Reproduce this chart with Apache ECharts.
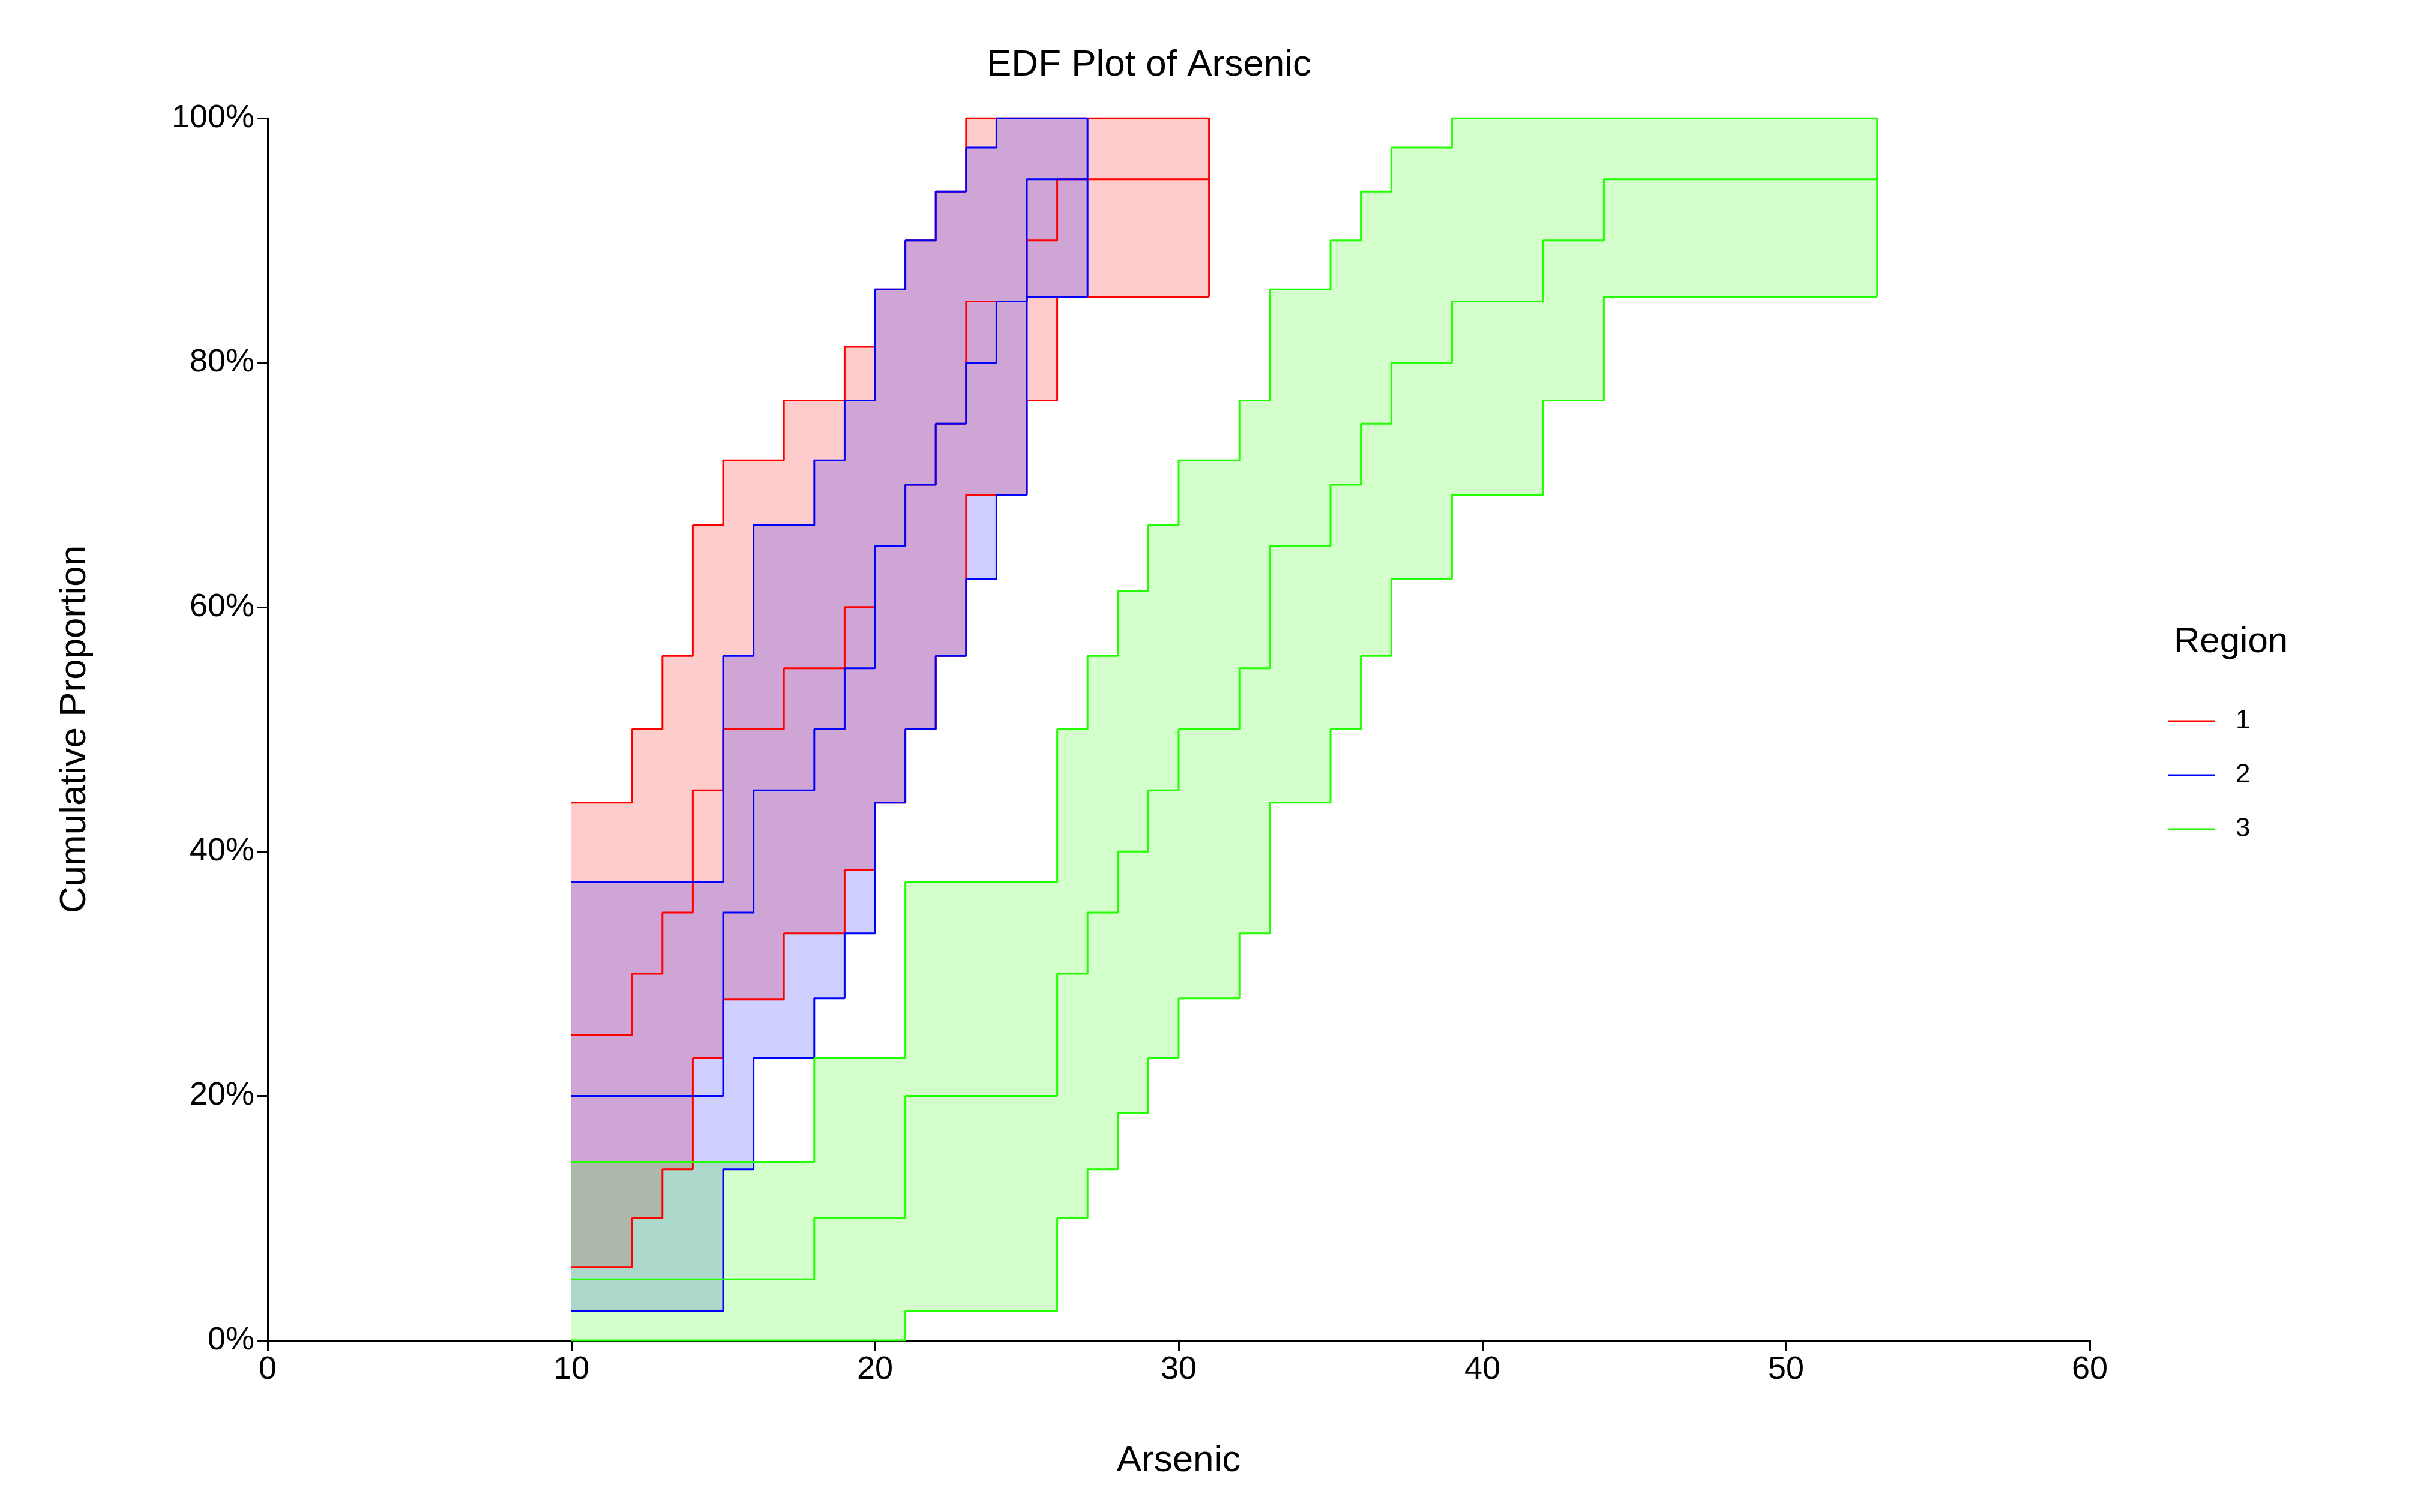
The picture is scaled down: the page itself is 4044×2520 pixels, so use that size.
<!DOCTYPE html>
<html>
<head>
<meta charset="utf-8">
<script src="https://cdn.jsdelivr.net/npm/echarts@6/dist/echarts.min.js"></script>
<style>html,body{margin:0;padding:0;background:#fff}#main{width:4044px;height:2520px}</style>
</head>
<body>
<div id="main"></div>
<script>
// region 1
var r1X = [10, 12, 13, 14, 15, 17, 19, 20, 21, 22, 23, 24, 25, 26];
var r1Lo = [0.06, 0.10, 0.14, 0.231, 0.279, 0.333, 0.385, 0.44, 0.50, 0.56, 0.692, 0.692, 0.769, 0.854];
var r1Mid = [0.25, 0.30, 0.35, 0.45, 0.50, 0.55, 0.60, 0.65, 0.70, 0.75, 0.85, 0.85, 0.90, 0.95];
var r1Hi = [0.44, 0.50, 0.56, 0.667, 0.72, 0.769, 0.813, 0.86, 0.90, 0.94, 1, 1, 1, 1];
var r1End = 31;
// region 2
var r2X = [10, 15, 16, 18, 19, 20, 21, 22, 23, 24, 25];
var r2Lo = [0.024, 0.14, 0.231, 0.28, 0.333, 0.44, 0.50, 0.56, 0.623, 0.692, 0.854];
var r2Mid = [0.20, 0.35, 0.45, 0.50, 0.55, 0.65, 0.70, 0.75, 0.80, 0.85, 0.95];
var r2Hi = [0.375, 0.56, 0.667, 0.72, 0.769, 0.86, 0.90, 0.94, 0.976, 1, 1];
var r2End = 27;
// region 3
var r3X = [10, 18, 21, 26, 27, 28, 29, 30, 32, 33, 35, 36, 37, 39, 42, 44];
var r3Lo = [0, 0, 0.024, 0.10, 0.14, 0.186, 0.231, 0.28, 0.333, 0.44, 0.50, 0.56, 0.623, 0.692, 0.769, 0.854];
var r3Mid = [0.05, 0.10, 0.20, 0.30, 0.35, 0.40, 0.45, 0.50, 0.55, 0.65, 0.70, 0.75, 0.80, 0.85, 0.90, 0.95];
var r3Hi = [0.146, 0.231, 0.375, 0.50, 0.56, 0.613, 0.667, 0.72, 0.769, 0.86, 0.90, 0.94, 0.976, 1, 1, 1];
var r3End = 53;

var regions = [
  { name: '1', x: r1X, lo: r1Lo, mid: r1Mid, hi: r1Hi, end: r1End, color: '#FF0000', fill: 'rgba(255,0,0,0.2)' },
  { name: '2', x: r2X, lo: r2Lo, mid: r2Mid, hi: r2Hi, end: r2End, color: '#0000FF', fill: 'rgba(0,0,255,0.19)' },
  { name: '3', x: r3X, lo: r3Lo, mid: r3Mid, hi: r3Hi, end: r3End, color: '#22FF00', fill: 'rgba(40,255,0,0.2)' }
];

function pts(x, y, end) {
  var d = [];
  for (var i = 0; i < x.length; i++) d.push([x[i], y[i]]);
  d.push([end, y[y.length - 1]]);
  return d;
}
// step polygon: upper forward, lower backward
function band(r) {
  var up = [], lo = [];
  for (var i = 0; i < r.x.length; i++) {
    var nx = i + 1 < r.x.length ? r.x[i + 1] : r.end;
    up.push([r.x[i], r.hi[i]], [nx, r.hi[i]]);
    lo.push([r.x[i], r.lo[i]], [nx, r.lo[i]]);
  }
  return up.concat(lo.reverse());
}

var series = [];
regions.forEach(function (r) {
  var poly = band(r);
  series.push({
    type: 'custom', silent: true, z: 1,
    data: [0],
    renderItem: function (params, api) {
      return {
        type: 'polygon',
        shape: { points: poly.map(function (p) { return api.coord(p); }) },
        style: { fill: r.fill, stroke: null }
      };
    }
  });
});
regions.forEach(function (r) {
  [['lo', r.lo], ['mid', r.mid], ['hi', r.hi]].forEach(function (s) {
    series.push({
      name: s[0] === 'mid' ? r.name : r.name + s[0],
      type: 'line', step: 'end', showSymbol: false, symbol: 'none', z: 3,
      data: pts(r.x, s[1], r.end),
      lineStyle: { color: r.color, width: 3 },
      itemStyle: { color: r.color }
    });
  });
  series.push({
    type: 'line', showSymbol: false, symbol: 'none', z: 3,
    data: [[r.end, r.lo[r.lo.length - 1]], [r.end, r.hi[r.hi.length - 1]]],
    lineStyle: { color: r.color, width: 3 }
  });
});

var myChart = echarts.init(document.getElementById('main'));
var option = {
  backgroundColor: '#fff',
  animation: false,
  textStyle: { fontFamily: 'Arial, Liberation Sans, sans-serif' },
  grid: { left: 446, right: 562, top: 197, bottom: 286 },
  graphic: [
    { type: 'text', left: 1964 - 320, top: 78, style: { text: 'EDF Plot of Arsenic', font: '62px Liberation Sans', fill: '#000', width: 640, align: 'center' } },
    { type: 'text', left: 3622, top: 1040, style: { text: 'Region', font: '60px Liberation Sans', fill: '#000' } }
  ],
  legend: {
    data: ['1', '2', '3'], orient: 'vertical', left: 3607, top: 1175,
    icon: 'rect', itemWidth: 78, itemHeight: 3, itemGap: 46,
    textStyle: { fontSize: 44, color: '#000', padding: [0, 0, 0, 30] }
  },
  xAxis: {
    type: 'value', min: 0, max: 60, interval: 10,
    name: 'Arsenic', nameLocation: 'middle', nameGap: 170,
    nameTextStyle: { fontSize: 62, color: '#000' },
    axisLine: { lineStyle: { color: '#000', width: 3 } },
    axisTick: { show: true, length: 18, lineStyle: { color: '#000', width: 3 } },
    axisLabel: { fontSize: 54, color: '#000', margin: 22 },
    splitLine: { show: false }
  },
  yAxis: {
    type: 'value', min: 0, max: 1, interval: 0.2,
    name: 'Cumulative Proportion', nameLocation: 'middle', nameGap: 290,
    nameTextStyle: { fontSize: 62, color: '#000' },
    axisLine: { show: true, lineStyle: { color: '#000', width: 3 } },
    axisTick: { show: true, length: 18, lineStyle: { color: '#000', width: 3 } },
    axisLabel: { fontSize: 54, color: '#000', margin: 22, formatter: function (v) { return Math.round(v * 100) + '%'; } },
    splitLine: { show: false }
  },
  series: series
};
myChart.setOption(option);
</script>
</body>
</html>
